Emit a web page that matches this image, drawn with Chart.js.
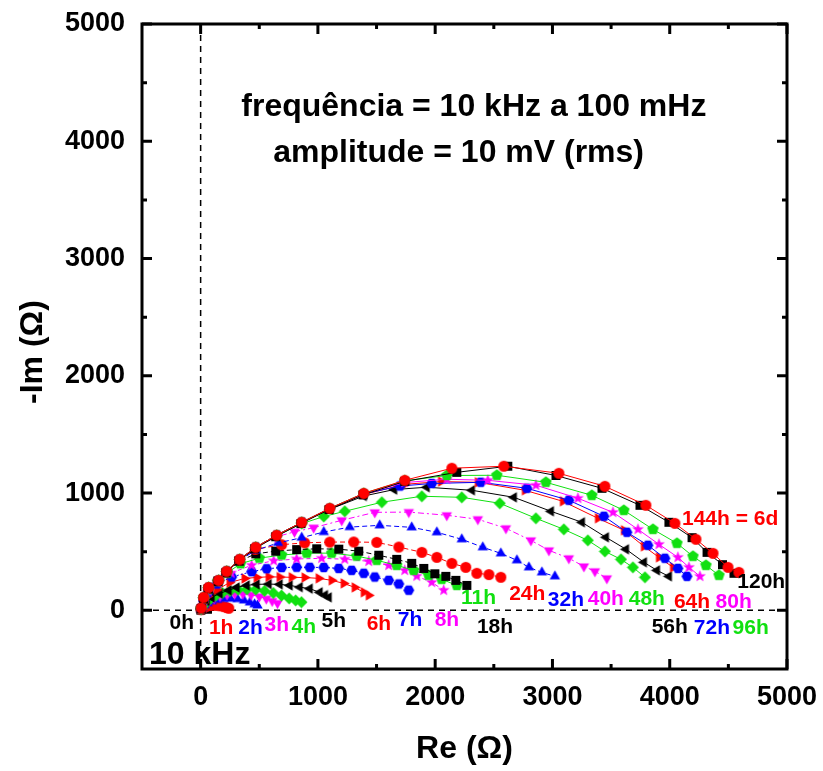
<!DOCTYPE html>
<html>
<head>
<meta charset="utf-8">
<title>Diagrama de Nyquist</title>
<script src="https://cdn.jsdelivr.net/npm/chart.js@4.4.1/dist/chart.umd.min.js"></script>
<style>
  html, body { margin: 0; padding: 0; background: #fff; }
  canvas { display: block; }
</style>
</head>
<body>
<canvas id="nyquist" width="823" height="771"></canvas>
<script>
// Impedance spectra (Re, -Im) in ohms, one array per immersion time
const s0h   = [[2,2],[6,8],[12,14],[20,18],[30,20],[40,19],[50,15],[58,10]];
const s1h   = [[4,6],[14,18],[30,28],[50,36],[75,41],[105,44],[135,43],[165,39],[195,32],[220,24],[240,18]];
const s2h   = [[4,6],[15,25],[35,45],[60,62],[95,78],[140,90],[195,98],[255,100],[315,96],[370,85],[420,68],[460,52],[485,42]];
const s3h   = [[4,7],[18,32],[42,58],[75,82],[115,104],[165,122],[225,135],[290,142],[360,141],[430,133],[500,118],[560,100],[610,80],[655,62]];
const s4h   = [[4,8],[20,38],[48,70],[85,100],[130,126],[185,148],[250,165],[320,176],[395,180],[470,177],[545,166],[620,148],[690,126],[755,102],[810,85],[860,70]];
const s5h   = [[4,9],[22,45],[52,80],[94,110],[162,145],[239,171],[307,196],[393,213],[478,222],[580,224],[674,222],[759,213],[845,198],[930,185],[1015,154],[1060,130],[1092,111]];
const s6h   = [[4,10],[24,65],[58,120],[137,175],[247,237],[375,272],[478,281],[580,286],[674,284],[777,282],[887,280],[1007,273],[1118,256],[1220,230],[1314,196],[1391,154],[1434,128]];
const s7h   = [[4,11],[25,80],[62,150],[140,225],[265,285],[435,330],[563,355],[691,365],[819,368],[930,367],[1050,366],[1178,358],[1288,341],[1391,316],[1485,284],[1604,256],[1690,225],[1775,172]];
const s8h   = [[4,12],[25,88],[64,165],[140,240],[260,318],[435,385],[623,423],[819,438],[1032,444],[1229,436],[1434,418],[1604,384],[1741,341],[1843,292],[1971,239],[2073,172]];
const s11h  = [[4,13],[26,94],[66,178],[145,248],[225,318],[340,398],[500,445],[691,472],[905,488],[1118,488],[1331,463],[1502,427],[1672,384],[1817,341],[1945,299],[2056,265],[2185,213]];
const s18h  = [[4,14],[26,97],[66,183],[148,252],[218,325],[330,420],[470,482],[640,505],[819,518],[990,525],[1178,522],[1348,505],[1519,470],[1672,435],[1800,401],[1903,358],[1997,312],[2091,290],[2176,256],[2270,213]];
const s24h  = [[4,15],[26,100],[67,187],[150,252],[220,328],[331,428],[465,520],[691,560],[887,576],[1101,582],[1306,583],[1502,580],[1690,540],[1886,495],[2014,452],[2142,401],[2261,367],[2355,316],[2458,305],[2560,282]];
const s32h  = [[5,16],[26,103],[67,190],[152,254],[220,328],[330,426],[470,512],[660,575],[862,620],[1050,668],[1271,710],[1527,725],[1800,708],[2014,666],[2227,606],[2406,538],[2560,486],[2697,427],[2799,367],[2910,324],[3021,290]];
const s40h  = [[5,17],[27,106],[68,192],[153,255],[221,330],[332,432],[468,535],[640,625],[800,670],[964,705],[1203,768],[1485,836],[1775,838],[2099,811],[2364,777],[2603,700],[2816,597],[2970,512],[3140,444],[3268,375],[3362,333],[3464,273]];
const s48h  = [[5,18],[27,108],[68,194],[153,255],[222,332],[333,434],[469,537],[648,635],[862,740],[1050,800],[1229,845],[1545,922],[1886,973],[2227,964],[2551,913],[2859,785],[3097,691],[3302,597],[3447,503],[3584,435],[3686,367],[3789,282]];
const s56h  = [[5,18],[27,109],[68,195],[153,256],[222,333],[333,435],[469,538],[648,640],[862,750],[1101,862],[1391,975],[1650,1030],[1928,1050],[2313,1024],[2671,964],[2987,845],[3251,751],[3456,623],[3627,521],[3780,410],[3891,341],[3993,290]];
const s64h  = [[5,19],[27,110],[68,196],[154,256],[222,333],[333,435],[469,538],[648,640],[862,751],[1101,868],[1391,988],[1741,1075],[2050,1098],[2364,1092],[2765,1024],[3089,930],[3388,785],[3610,683],[3780,546],[3908,452],[4028,367]];
const s72h  = [[5,19],[26,110],[68,196],[154,256],[222,333],[333,435],[469,538],[648,640],[862,751],[1101,869],[1391,994],[1700,1060],[1971,1082],[2389,1092],[2782,1041],[3140,939],[3439,802],[3635,666],[3814,555],[3959,444],[4070,358],[4147,290]];
const s80h  = [[5,19],[26,111],[68,196],[154,256],[222,333],[333,435],[469,538],[648,640],[862,751],[1101,870],[1391,996],[1741,1090],[2100,1118],[2449,1109],[2859,1067],[3217,956],[3516,836],[3729,691],[3908,563],[4070,452],[4164,367],[4258,290]];
const s96h  = [[5,19],[26,111],[68,196],[154,256],[222,333],[333,435],[469,538],[648,640],[862,751],[1101,870],[1391,998],[1741,1105],[2100,1150],[2526,1152],[2944,1092],[3336,981],[3609,853],[3857,691],[4062,572],[4198,461],[4309,384],[4420,299]];
const s120h = [[5,15],[24,100],[64,185],[148,245],[215,320],[325,422],[460,525],[640,628],[855,740],[1095,860],[1385,985],[1740,1100],[2184,1177],[2619,1229],[3030,1150],[3422,1041],[3746,896],[3993,751],[4190,620],[4318,495],[4450,390],[4548,316]];
const s144h = [[5,20],[26,111],[68,196],[154,256],[222,333],[333,435],[469,538],[648,640],[862,751],[1101,870],[1391,998],[1741,1109],[2142,1212],[2585,1229],[3055,1169],[3447,1058],[3797,896],[4044,742],[4224,606],[4369,486],[4497,367],[4590,324]];

const seriesNames = ['0h','1h','2h','3h','4h','5h','6h','7h','8h','11h','18h','24h','32h','40h','48h','56h','64h','72h','80h','96h','120h','144h = 6d'];
const seriesData  = [s0h,s1h,s2h,s3h,s4h,s5h,s6h,s7h,s8h,s11h,s18h,s24h,s32h,s40h,s48h,s56h,s64h,s72h,s80h,s96h,s120h,s144h];

const axisTicks = [0, 1000, 2000, 3000, 4000, 5000];
const minorTicks = [500, 1500, 2500, 3500, 4500];

// Label anchors in data units (Re, -Im)
const labelRe = [-160,175,425,650,880,1135,1520,1785,2100,2370,2510,2785,3115,3455,3805,4000,4190,4360,4545,4690,4780,4515];
const labelIm = [-110,-150,-150,-125,-145,-95,-120,-85,-85,100,-145,135,85,95,95,-145,70,-150,70,-150,240,775];

// Styling
const FONT = '"Liberation Sans", Arial, Helvetica, sans-serif';
const palette = ['#000000', '#ff0000', '#0000ff', '#ff00ff', '#11e011'];
const shapes = ['square','circle','up','down','diamond','left','right','hex','star','pent'];
const dashes = { '7h':[2,2], '8h':[4,3], '18h':[5,3], '24h':[5,3], '32h':[5,3], '40h':[6,3,2,3] };

function marker(shape, color) {
  const S = 13, c = document.createElement('canvas');
  c.width = S; c.height = S;
  const g = c.getContext('2d');
  g.fillStyle = color;
  g.translate(S / 2, S / 2);
  g.beginPath();
  const poly = (n, r, rot) => {
    for (let i = 0; i < n; i++) {
      const a = rot + i * 2 * Math.PI / n;
      const px = r * Math.cos(a), py = r * Math.sin(a);
      i ? g.lineTo(px, py) : g.moveTo(px, py);
    }
    g.closePath();
  };
  switch (shape) {
    case 'square': g.rect(-4.5, -4.5, 9, 9); break;
    case 'circle': g.arc(0, 0, 5.5, 0, 2 * Math.PI); break;
    case 'up': poly(3, 6, -Math.PI / 2); break;
    case 'down': poly(3, 6, Math.PI / 2); break;
    case 'left': poly(3, 6, Math.PI); break;
    case 'right': poly(3, 6, 0); break;
    case 'diamond': poly(4, 6, 0); break;
    case 'hex': poly(6, 5.5, 0); break;
    case 'pent': poly(5, 6, -Math.PI / 2); break;
    case 'star':
      for (let i = 0; i < 10; i++) {
        const r = i % 2 ? 2.6 : 6.2;
        const a = -Math.PI / 2 + i * Math.PI / 5;
        i ? g.lineTo(r * Math.cos(a), r * Math.sin(a)) : g.moveTo(r * Math.cos(a), r * Math.sin(a));
      }
      g.closePath();
      break;
  }
  g.fill();
  return c;
}

const N = seriesData.length;
const datasets = seriesData.map((pts, i) => {
  const color = palette[i % palette.length];
  const name = seriesNames[i];
  return {
    label: name,
    data: pts.map(p => ({ x: p[0], y: p[1] })),
    showLine: true,
    borderColor: color,
    backgroundColor: color,
    borderWidth: 1,
    borderDash: dashes[name] || [],
    pointStyle: marker(shapes[i % shapes.length], color),
    pointRadius: 6,
    order: N - i
  };
});

const decorations = {
  id: 'decorations',
  beforeDatasetsDraw(chart) {
    const { ctx, chartArea: a, scales: { x, y } } = chart;
    const x0 = x.getPixelForValue(0), y0 = y.getPixelForValue(0);
    ctx.save();
    ctx.strokeStyle = '#000';
    ctx.lineWidth = 1.5;
    ctx.setLineDash([6, 5]);
    ctx.beginPath();
    ctx.moveTo(x0, a.top); ctx.lineTo(x0, a.bottom);
    ctx.moveTo(a.left, y0); ctx.lineTo(a.right, y0);
    ctx.stroke();
    ctx.restore();
  },
  afterDraw(chart) {
    const { ctx, chartArea: a, scales: { x, y } } = chart;
    ctx.save();
    // frame
    ctx.strokeStyle = '#000';
    ctx.lineWidth = 3;
    ctx.strokeRect(a.left, a.top, a.right - a.left, a.bottom - a.top);
    // inward ticks on all four sides
    const tick = (v, len) => {
      const px = x.getPixelForValue(v), py = y.getPixelForValue(v);
      ctx.beginPath();
      ctx.moveTo(px, a.bottom); ctx.lineTo(px, a.bottom - len);
      ctx.moveTo(px, a.top); ctx.lineTo(px, a.top + len);
      ctx.moveTo(a.left, py); ctx.lineTo(a.left + len, py);
      ctx.moveTo(a.right, py); ctx.lineTo(a.right - len, py);
      ctx.stroke();
    };
    ctx.lineWidth = 3;
    axisTicks.forEach(v => tick(v, 10));
    minorTicks.forEach(v => tick(v, 5));

    // series labels
    ctx.textAlign = 'center';
    ctx.textBaseline = 'middle';
    ctx.font = 'bold 21px ' + FONT;
    seriesNames.forEach((t, i) => {
      ctx.fillStyle = palette[i % palette.length];
      ctx.fillText(t, x.getPixelForValue(labelRe[i]), y.getPixelForValue(labelIm[i]));
    });

    // measurement conditions
    ctx.fillStyle = '#000';
    ctx.font = 'bold 32px ' + FONT;
    ctx.fillText('frequência = 10 kHz a 100 mHz', x.getPixelForValue(2330), y.getPixelForValue(4290));
    ctx.fillText('amplitude = 10 mV (rms)', x.getPixelForValue(2200), y.getPixelForValue(3900));

    ctx.font = 'bold 32px ' + FONT;
    ctx.textAlign = 'left';
    ctx.fillText('10 kHz', a.left + 7, y.getPixelForValue(-385));

    // axis titles
    ctx.textAlign = 'center';
    ctx.font = 'bold 32px ' + FONT;
    ctx.fillText('Re (\u03A9)', (a.left + a.right) / 2, 749);
    ctx.translate(33, 352);
    ctx.rotate(-Math.PI / 2);
    ctx.fillText('-Im (\u03A9)', 0, 0);
    ctx.restore();
  }
};

// Fixed axis box sizes; no extra edge padding from the outer tick labels
const clearPad = s => { s.paddingLeft = 0; s.paddingRight = 0; s.paddingTop = 0; s.paddingBottom = 0; };
const tickFont = { family: FONT, size: 27, weight: 'bold' };
new Chart(document.getElementById('nyquist'), {
  type: 'scatter',
  data: { datasets },
  options: {
    responsive: false,
    animation: false,
    layout: { padding: { top: 24, right: 36, left: 0, bottom: 0 } },
    plugins: { legend: { display: false }, tooltip: { enabled: false } },
    scales: {
      x: {
        type: 'linear', position: 'bottom', min: -500, max: 5000,
        afterBuildTicks: s => { s.ticks = axisTicks.map(v => ({ value: v })); },
        afterFit: s => { s.height = 102; clearPad(s); },
        grid: { display: false, drawTicks: false },
        border: { display: false },
        ticks: { font: tickFont, color: '#000', padding: 12, maxRotation: 0, autoSkip: false, callback: v => String(v) }
      },
      y: {
        type: 'linear', position: 'left', min: -500, max: 5000,
        afterBuildTicks: s => { s.ticks = axisTicks.map(v => ({ value: v })); },
        afterFit: s => { s.width = 142; clearPad(s); },
        grid: { display: false, drawTicks: false },
        border: { display: false },
        ticks: { font: tickFont, color: '#000', padding: 17, autoSkip: false, callback: v => String(v) }
      }
    }
  },
  plugins: [decorations]
});
</script>
</body>
</html>
